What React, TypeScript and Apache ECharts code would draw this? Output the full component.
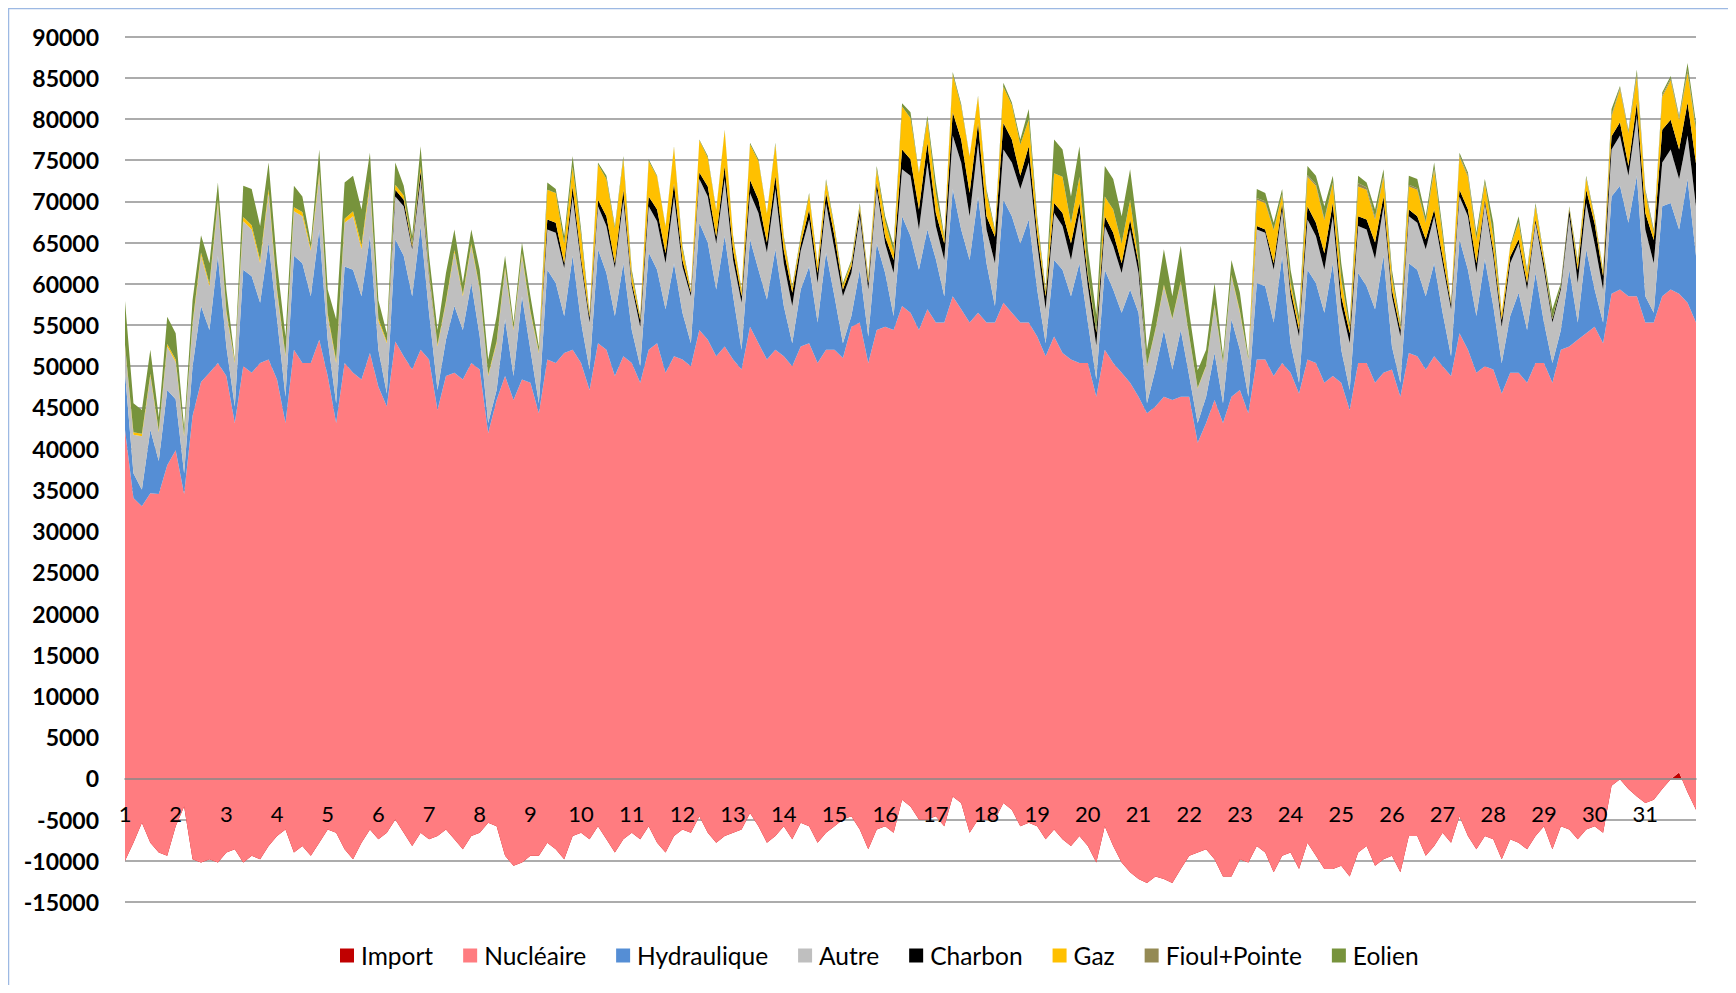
import React, { useEffect, useRef } from "react";
import * as echarts from "echarts";

// Day tick labels (one per day, 6 samples per day: 0h,4h,8h,12h,16h,20h)
const dayLabels = ["1","2","3","4","5","6","7","8","9","10","11","12","13","14","15","16","17","18","19","20","21","22","23","24","25","26","27","28","29","30","31"];
const hourSteps = ["0h","4h","8h","12h","16h","20h"];
const endLabel = "32 0h";

const seriesNames = ["Import","Nucléaire","Hydraulique","Autre","Charbon","Gaz","Fioul+Pointe","Eolien"];

const importMW = [
  -10000,-7800,-5400,-7800,-9000,-9400,
  -5800,-3400,-9800,-10200,-9800,-10200,
  -9000,-8600,-10200,-9400,-9800,-8200,
  -7000,-6200,-9000,-8200,-9400,-7800,
  -6200,-6600,-8600,-9800,-7800,-6200,
  -7400,-6600,-5000,-6600,-8200,-6600,
  -7400,-7000,-6200,-7400,-8600,-7000,
  -6600,-5400,-5800,-9400,-10600,-10200,
  -9400,-9400,-7800,-8600,-9800,-7000,
  -6600,-7400,-5800,-7400,-9000,-7400,
  -6600,-7400,-5800,-7800,-9000,-7000,
  -6200,-6600,-4600,-6600,-7800,-7000,
  -6600,-6200,-4200,-5800,-7800,-7000,
  -5800,-7400,-5400,-5800,-7800,-6600,
  -5800,-5000,-4600,-6200,-8600,-6200,
  -5800,-6600,-2600,-3400,-5000,-5000,
  -4600,-5800,-2200,-3000,-6600,-5000,
  -5000,-5000,-3000,-3800,-5800,-5400,
  -5800,-7400,-6200,-7400,-8200,-7000,
  -8200,-10200,-5800,-8200,-10200,-11400,
  -12200,-12700,-11900,-12200,-12700,-11000,
  -9400,-9000,-8600,-9800,-11900,-11900,
  -9800,-10200,-8200,-9000,-11400,-9400,
  -9000,-11000,-7800,-9400,-11000,-11000,
  -10600,-11900,-9000,-8200,-10600,-9800,
  -9400,-11400,-7000,-7000,-9400,-8200,
  -6600,-7800,-4600,-7000,-8600,-7000,
  -7400,-9800,-7400,-7800,-8600,-7000,
  -5800,-8600,-5800,-6200,-7400,-6200,
  -5800,-6600,-900,-100,-1300,-2200,
  -3000,-2600,-1300,-100,700,-1700,
  -3800
];

const nucleaireMW = [
  52300,41800,38400,42400,43500,47400,
  45600,37900,53800,58300,59000,60600,
  57800,51700,60200,58600,60200,59000,
  55400,49300,61000,58600,59800,61000,
  55000,49700,59000,59000,56200,57800,
  54900,51700,58000,57800,57800,58600,
  58200,51700,55000,56600,57000,57400,
  56200,47300,51700,58200,56500,58600,
  57400,53700,58600,59000,61400,59000,
  57000,54500,58600,59400,57800,58600,
  57000,55400,57800,60600,58200,58200,
  57000,56600,59000,59800,59000,59400,
  57400,55800,59000,58600,58600,59000,
  57000,57400,57800,58600,58200,58600,
  57800,56000,59400,61500,59000,60600,
  60600,61000,59900,59900,59400,61900,
  59900,61100,60700,59900,61900,61500,
  60300,60300,60700,60300,61100,60700,
  59400,58600,59800,59000,59000,57400,
  58600,56500,57800,58600,59400,59400,
  58500,57000,57000,58500,58600,57300,
  55700,49700,51700,55700,55000,58200,
  56900,54500,59000,59800,60200,59800,
  58200,57700,58600,59800,59000,59800,
  58600,56600,59400,58600,58600,59000,
  59000,57700,58600,58200,59000,59400,
  56600,56600,58600,59000,57800,57000,
  57000,56500,56600,57000,56600,57400,
  56200,56600,57800,58600,60600,60200,
  60600,59400,59700,59400,59800,60700,
  58300,57900,59800,59400,58100,59400,
  59100
];

const hydrauliqueMW = [
  6900,3000,2000,7700,4000,9100,
  6200,2500,6000,9200,5200,13000,
  3600,2000,11700,11700,7300,14200,
  7300,3200,11400,12100,8100,13400,
  4400,2400,11700,12500,10100,14200,
  4500,1600,12400,12200,8900,15000,
  5700,2400,4400,8100,6000,9700,
  4000,1200,1200,6900,2900,10100,
  4000,1200,10900,9700,4500,11400,
  4900,2500,11400,9300,7300,11300,
  4000,2000,11800,8900,7700,11300,
  5700,2800,13000,11800,8100,13400,
  7700,2400,10600,8900,7300,12200,
  6100,2800,6900,9300,4900,11800,
  6500,1800,1300,6400,3200,10500,
  6500,1700,10900,9300,7300,9700,
  7700,3200,13000,9700,7600,14100,
  7200,2000,12500,11700,9600,12500,
  5700,1600,9300,10100,7700,12100,
  4900,2100,9700,8900,7300,11300,
  10200,1200,4500,8100,3700,8100,
  2500,2400,3200,5700,2400,9400,
  4900,2000,9300,8900,6500,13000,
  3600,1300,10900,9700,8500,13700,
  4000,2400,10900,9300,8900,14200,
  2800,1700,10900,10500,8900,11300,
  6500,2400,11400,9700,6900,13000,
  7700,3700,6900,9700,6400,10900,
  4900,2400,2400,9300,2100,10200,
  4500,2500,11800,12600,8900,14600,
  3200,1200,10900,10500,7800,15000,
  8100
];

const autreMW = [
  3200,4700,6500,6500,3500,5300,
  4500,4500,5000,6100,5300,6400,
  4100,5300,5900,5700,4800,6000,
  3200,4900,5400,5700,5500,6500,
  2900,4900,5300,6500,5700,6100,
  3500,6100,5200,6000,5700,5700,
  4400,5300,4500,6500,4100,4500,
  5700,5700,5700,6000,5600,4900,
  4500,6100,4900,6100,5800,7200,
  7200,5700,5200,5700,5800,7700,
  5300,4800,5600,5900,5600,8100,
  5600,5700,5300,5600,5600,6900,
  4400,5700,5600,6900,5700,7300,
  5200,4500,4700,5700,4800,6000,
  5700,5700,5200,6500,5700,6600,
  3600,5200,5700,7300,4900,8100,
  4000,4400,6500,8100,5300,6500,
  4100,5200,6100,6500,6600,6900,
  5600,4100,5700,5300,4400,6100,
  4400,4100,5300,5300,4800,7300,
  4800,4500,4800,5300,6100,5700,
  4800,4200,3700,5700,4900,5200,
  4500,4500,6500,6500,6400,5600,
  5700,5600,6100,5700,5200,5700,
  5300,5700,5700,6900,6100,6000,
  6100,5600,5700,5700,5700,5700,
  6000,5700,5200,6500,5200,6800,
  6000,4400,6400,6000,4900,6100,
  6400,4900,4900,6500,4800,5600,
  5600,4000,5700,6100,5700,7300,
  8100,6000,5300,6500,6100,5300,
  6000
];

const charbonMW = [
  0,0,0,0,0,0,
  0,0,0,0,0,0,
  0,0,0,0,0,0,
  0,0,0,0,0,0,
  0,0,0,0,0,0,
  0,0,800,800,300,1000,
  300,0,0,0,0,0,
  0,0,0,0,0,0,
  0,0,1200,1200,600,1200,
  600,600,800,1200,600,1200,
  500,800,1200,1400,1200,1600,
  800,400,800,1200,800,1600,
  1200,800,1600,1600,1200,1600,
  1600,1600,800,1200,1200,1200,
  1600,800,800,800,800,800,
  800,1600,2400,2000,2400,2400,
  1600,2000,2800,2800,2800,2400,
  1600,3200,3200,2800,1600,2000,
  1200,1600,1200,1600,2000,1200,
  1200,1600,1200,1600,1200,1200,
  1200,0,0,0,0,0,
  0,0,0,0,0,0,
  0,0,400,400,800,800,
  800,800,1600,1600,2000,1600,
  1200,1200,1200,1200,2000,1200,
  800,800,800,800,1200,800,
  800,600,800,800,1200,400,
  800,800,800,500,800,400,
  800,400,400,800,1600,1600,
  2400,1600,1600,1600,1200,1600,
  2000,2800,4000,3600,3600,4000,
  5200
];

const gazMW = [
  200,300,300,300,200,300,
  300,200,300,400,300,400,
  300,200,500,500,400,500,
  400,200,500,500,300,500,
  300,300,500,600,500,500,
  300,200,600,500,300,600,
  300,200,200,300,200,300,
  200,200,200,300,200,300,
  200,200,3600,3600,2400,2400,
  2800,300,4300,4500,4200,3800,
  1000,300,4300,4000,3200,4400,
  1300,300,3900,3500,3200,4300,
  1500,600,4300,4700,3500,3800,
  1400,600,700,1800,1000,1400,
  900,500,500,500,500,1600,
  1900,1000,5200,5000,4400,2800,
  2400,600,4600,4000,4400,3200,
  2800,600,4400,4200,3800,3200,
  1500,400,3600,4400,2400,3200,
  400,200,2400,2800,2400,2400,
  300,100,100,200,100,200,
  100,100,100,200,100,200,
  200,100,3200,3200,4000,1000,
  800,800,3600,4500,4000,2400,
  2000,600,3600,3600,2800,2400,
  1400,400,2800,3200,2000,4800,
  2400,100,4000,4000,2800,2000,
  1600,800,1200,2000,1200,1600,
  600,100,100,200,800,1400,
  600,600,2400,4000,4000,3200,
  2400,800,4000,4800,3600,3600,
  4000
];

const fioulPointeMW = [
  0,0,0,0,0,0,
  0,0,0,0,0,0,
  0,0,0,0,0,0,
  0,0,0,0,0,0,
  0,0,0,0,0,0,
  0,0,0,0,0,0,
  0,0,0,0,0,0,
  0,0,0,0,0,0,
  0,0,0,0,0,0,
  0,0,0,0,0,0,
  0,0,0,0,0,0,
  0,0,0,0,0,0,
  0,0,0,0,0,0,
  0,0,0,0,0,0,
  0,0,0,0,0,0,
  0,0,0,0,0,0,
  0,0,0,0,0,0,
  0,0,0,0,0,0,
  0,0,0,0,0,0,
  0,0,0,0,0,0,
  0,0,0,0,0,0,
  0,0,0,0,0,0,
  0,0,200,200,100,100,
  100,100,200,200,200,100,
  200,100,400,300,300,200,
  200,100,200,200,200,200,
  100,0,200,200,200,100,
  200,0,0,100,0,100,
  0,0,0,0,0,100,
  100,0,200,200,200,300,
  200,200,200,200,200,300,
  200
];

const eolienMW = [
  5300,3500,2900,2900,1600,3300,
  3200,800,2700,2100,2500,2100,
  2500,200,3800,4400,4100,3200,
  3200,2200,2600,1900,700,2700,
  2900,5000,4400,4300,4300,3500,
  2200,1000,2700,1200,1000,2400,
  1900,1800,3400,2500,1400,1700,
  2200,1800,3100,1400,700,1300,
  1800,600,900,500,900,1300,
  700,300,200,400,300,300,
  500,200,200,100,100,100,
  400,100,100,200,100,100,
  200,200,200,200,100,200,
  300,200,300,200,200,300,
  300,300,300,300,300,400,
  600,700,400,700,100,500,
  1300,300,300,300,100,100,
  500,300,500,300,600,1300,
  600,400,4100,3300,3300,3700,
  2900,1900,3700,3700,3300,3700,
  3000,1900,3200,4300,2700,4300,
  2800,2100,1900,2600,700,1800,
  2200,300,1100,1000,800,600,
  1500,800,1100,1000,1500,800,
  1800,600,900,600,900,700,
  800,400,1100,1100,600,700,
  800,100,300,300,700,400,
  1500,100,100,700,400,300,
  300,1100,300,200,400,200,
  200,200,700,200,200,500,
  300,300,300,300,300,900,
  700
];

const seriesColors = ["#C00000","#FF7C80","#558ED5","#BFBFBF","#000000","#FFC000","#948A54","#77933C"];

export default function App() {
  const ref = useRef<HTMLDivElement>(null);

  useEffect(() => {
    if (!ref.current) return;
    const chart = echarts.init(ref.current, null, { renderer: "svg" });

    const categories: string[] = [];
    dayLabels.forEach((d) => hourSteps.forEach((h) => categories.push(d + " " + h)));
    categories.push(endLabel);

    const font = "Lato, 'Open Sans', 'DejaVu Sans', sans-serif";
    const dataSets = [importMW, nucleaireMW, hydrauliqueMW, autreMW, charbonMW, gazMW, fioulPointeMW, eolienMW];

    const gridTop = 28.5;
    const gridBottom = 83;
    const chartH = 977;
    const yMin = -15000;
    const yMax = 90000;
    const plotH = chartH - gridTop - gridBottom;
    const zeroFromBottom = (plotH * (0 - yMin)) / (yMax - yMin);

    const series = seriesNames.map((name, i) => ({
      name,
      type: "line",
      stack: "mix",
      stackStrategy: "all",
      data: dataSets[i],
      symbol: "none",
      showSymbol: false,
      lineStyle: { width: 0, color: seriesColors[i] },
      itemStyle: { color: seriesColors[i] },
      areaStyle: { color: seriesColors[i], opacity: 1 },
      silent: true,
      emphasis: { disabled: true },
    }));

    chart.setOption({
      animation: false,
      backgroundColor: "#ffffff",
      textStyle: { fontFamily: font },
      grid: { left: 117, right: 32, top: gridTop, bottom: gridBottom, containLabel: false },
      legend: {
        data: seriesNames,
        left: 327,
        top: 930,
        icon: "rect",
        itemWidth: 14,
        itemHeight: 14,
        itemGap: 30,
        selectedMode: false,
        textStyle: { fontSize: 24.5, fontFamily: font, color: "#000", padding: [0, 0, 0, 2] },
      },
      xAxis: {
        type: "category",
        data: categories,
        boundaryGap: false,
        position: "bottom",
        offset: -zeroFromBottom,
        z: 10,
        axisLine: { onZero: false, lineStyle: { color: "#888888", width: 1.5 } },
        axisTick: { show: false },
        splitLine: { show: false },
        axisLabel: {
          interval: (index: number) => index % 6 === 0 && index < categories.length - 1,
          formatter: (v: string) => v.split(" ")[0],
          fontSize: 22,
          fontFamily: font,
          color: "#000",
          margin: 24,
        },
      },
      yAxis: {
        type: "value",
        min: yMin,
        max: yMax,
        interval: 5000,
        axisLine: { show: false },
        axisTick: { show: false },
        splitLine: { show: true, lineStyle: { color: "#909090", width: 1.5 } },
        axisLabel: {
          formatter: (v: number) => String(v),
          fontSize: 23,
          fontWeight: "bold",
          fontFamily: font,
          color: "#000",
          margin: 26,
        },
      },
      graphic: [
        { type: "line", shape: { x1: 0, y1: 0.5, x2: 1720, y2: 0.5 }, style: { stroke: "#9DB9E3", lineWidth: 1.5 }, silent: true },
        { type: "line", shape: { x1: 0.5, y1: 0, x2: 0.5, y2: 977 }, style: { stroke: "#9DB9E3", lineWidth: 1.5 }, silent: true },
      ],
      series,
    });

    return () => chart.dispose();
  }, []);

  return <div ref={ref} style={{ width: 1720, height: 977 }} />;
}
